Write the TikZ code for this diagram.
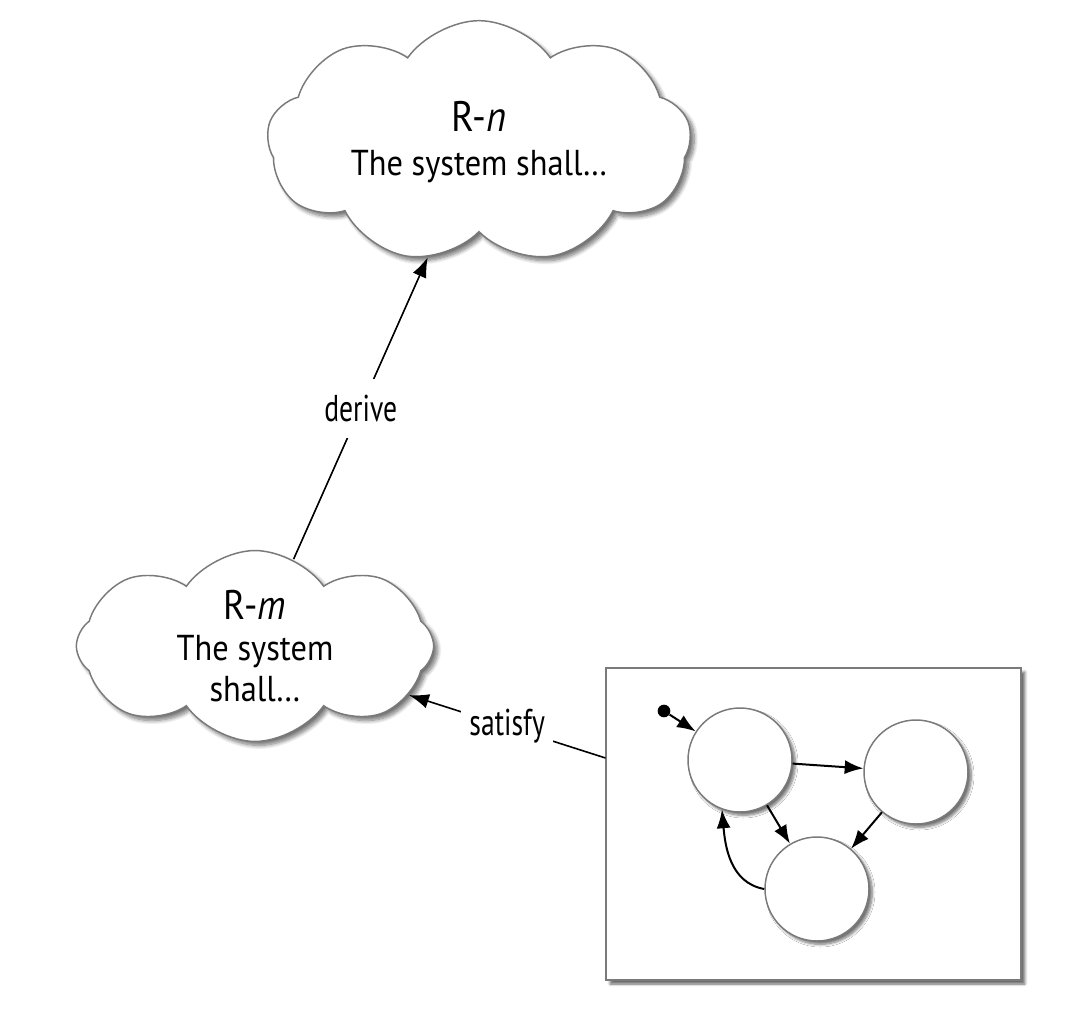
\documentclass[tikz,border=0pt]{standalone}
\usepackage{fontspec}
\setmainfont[FakeStretch=0.9]{PT Sans}
\newfontfamily\labelfont[FakeStretch=0.74]{PT Sans}
\usetikzlibrary{shapes.symbols,shadows.blur,arrows.meta}
\definecolor{edgegray}{HTML}{7A7A7A}
\tikzset{
  reqcloud/.style={cloud, cloud ignores aspect, cloud puff arc=110, draw=edgegray, line width=1.1pt, fill=white,
    blur shadow={shadow xshift=3pt, shadow yshift=-3pt, shadow blur steps=8, shadow blur radius=3pt, shadow opacity=55},
    align=center, font=\fontsize{27}{31}\selectfont},
  state/.style={circle, draw=edgegray, line width=1.1pt, fill=white, minimum size=78pt, inner sep=0pt,
    blur shadow={shadow xshift=2.5pt, shadow yshift=-2.5pt, shadow blur steps=6, shadow opacity=55}},
  conn/.style={line width=1.2pt, -{Latex[length=15pt,width=11pt]}},
  smallconn/.style={line width=1.5pt, -{Latex[length=14pt,width=10.5pt]}},
  lbl/.style={fill=white, font=\labelfont\fontsize{28}{30}\selectfont, inner xsep=6pt, inner ysep=12pt},
}
\begin{document}
\begin{tikzpicture}[x=0.75pt,y=-0.75pt]
\useasboundingbox (0,0) rectangle (1065,1035);
\node[reqcloud, cloud puffs=9, minimum width=318pt, minimum height=182pt] (n) at (479,142)
  {{\fontsize{32}{34}\selectfont R-\textit{n}}\\[2pt]The system shall…};
\node[reqcloud, cloud puffs=8, inner sep=0pt, minimum width=268pt, minimum height=142pt] (m) at (255,646)
  {{\fontsize{31}{33}\selectfont R-\textit{m}}\\The system\\shall…};
\node[draw=edgegray, line width=1.1pt, fill=white, minimum width=311pt, minimum height=234pt, inner sep=0pt,
  blur shadow={shadow xshift=3pt, shadow yshift=-3pt, shadow blur steps=6, shadow opacity=60}] (box) at (813.5,824) {};
\node[state] (A) at (740,760) {};
\node[state] (B) at (916,772) {};
\node[state] (C) at (817,889) {};
\node[circle, fill=black, minimum size=9.5pt, inner sep=0pt] (init) at (664,711) {};
\draw[smallconn] (init) -- (A);
\draw[smallconn] (A) -- (B);
\draw[smallconn] (A) -- (C);
\draw[smallconn] (B) -- (C);
\draw[smallconn] (C.west) to[out=170,in=-85] (A.-110);
\draw[conn] (m) -- node[lbl, pos=0.5] {derive} (n);
\draw[conn] (box) -- node[lbl, pos=0.5] {satisfy} (m);
\end{tikzpicture}
\end{document}
